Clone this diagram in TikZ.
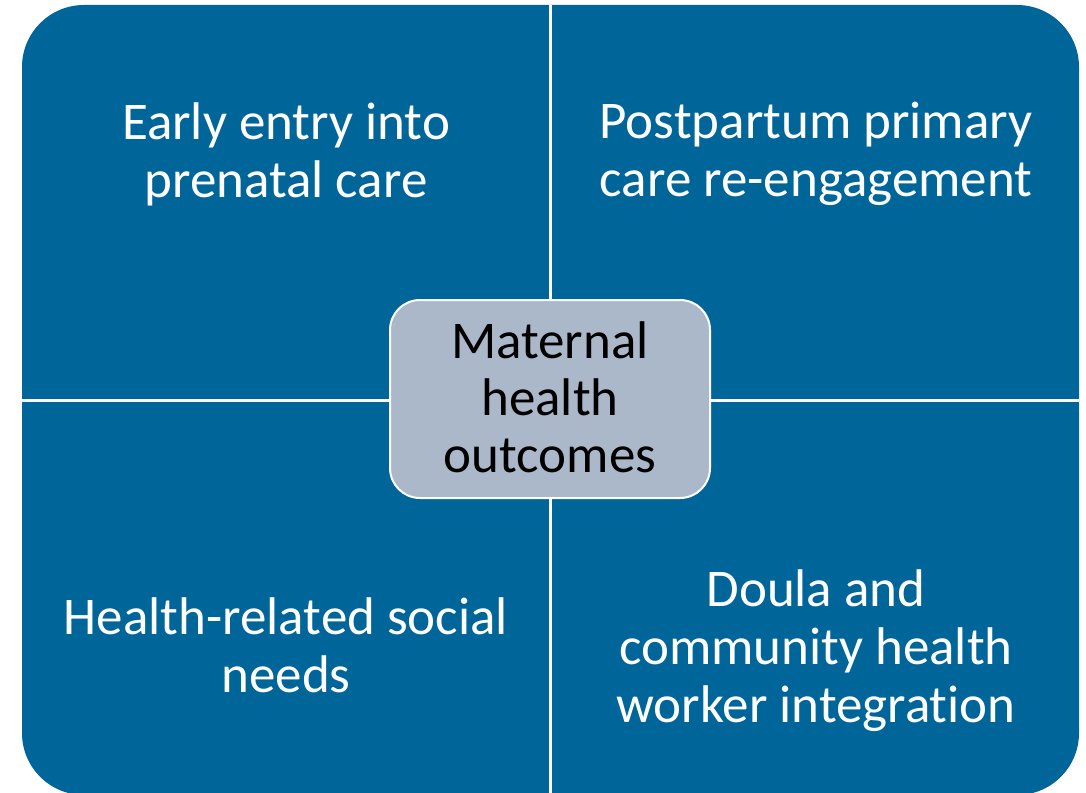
\documentclass[tikz,border=0pt]{standalone}
\usepackage{fontspec}
\setmainfont{Carlito}[Ligatures=NoCommon]
\usepackage{tikz}
\usetikzlibrary{positioning}
\definecolor{matblue}{RGB}{0,101,153}
\definecolor{matgrey}{RGB}{171,184,202}

\begin{document}
\begin{tikzpicture}[x=1pt, y=-1pt]

    \tikzstyle{panel} = [
        fill=matblue,
        rounded corners=62,
    ]
    \tikzstyle{divider} = [
        draw=white,
        line width=3pt,
    ]
    \tikzstyle{quadtext} = [
        text=white,
        align=center,
        font=\fontsize{53}{58}\selectfont,
    ]
    \tikzstyle{centre} = [
        rectangle,
        draw=white,
        line width=2pt,
        fill=matgrey,
        rounded corners=30,
        minimum width=320,
        minimum height=198,
        align=center,
        font=\fontsize{53}{57}\selectfont,
    ]

    \useasboundingbox (0,0) rectangle (1086,792);
    \clip (0,0) rectangle (1086,792);

    \fill [panel] (22,5) rectangle (1079,795);

    \coordinate (top) at (550,5);
    \coordinate (bot) at (550,795);
    \coordinate (lft) at (22,400);
    \coordinate (rgt) at (1079,400);

    \path [divider] (top) -- (bot);
    \path [divider] (lft) -- (rgt);

    \node [centre] (mid) at (550,399) {};
    \node [font=\fontsize{53}{57}\selectfont, align=center] (midtext) at (550,397) {Maternal\\health\\outcomes};

    \node [quadtext] (early) at (286,154) {Early entry into\\prenatal care};
    \node [quadtext] (post)  at (816,154) {Postpartum primary\\care re-engagement};
    \node [quadtext] (social) at (286,645) {Health-related social\\needs};
    \node [quadtext] (doula) at (816,651) {Doula and\\community health\\worker integration};

\end{tikzpicture}
\end{document}
